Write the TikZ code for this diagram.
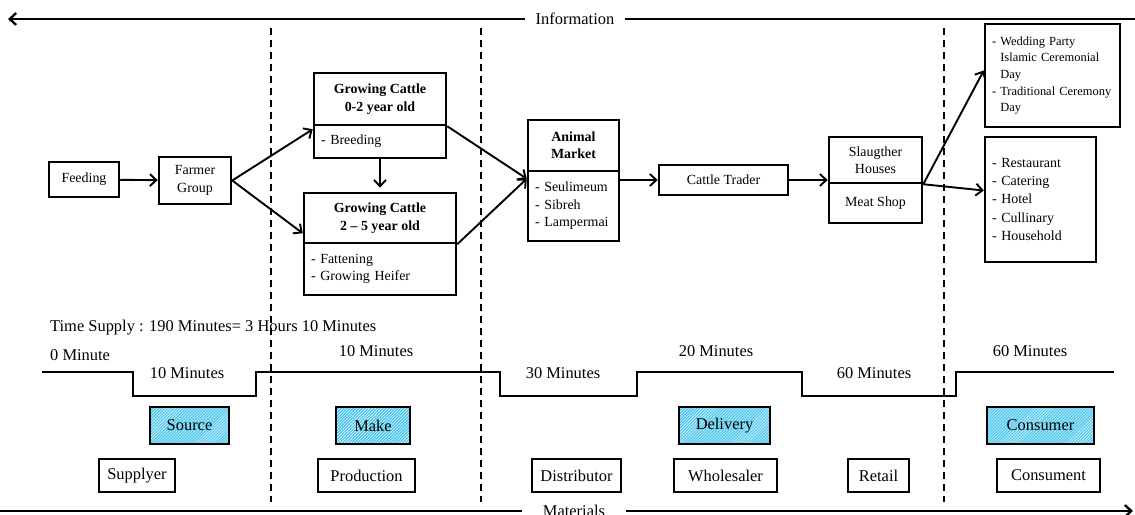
\documentclass[tikz,border=0pt]{standalone}
\usepackage{fontspec}
\setmainfont{Liberation Serif}
\usetikzlibrary{arrows.meta,patterns}
\definecolor{hatchblue}{RGB}{80,200,238}

\begin{document}
\begin{tikzpicture}[
	box/.style={draw,rectangle,line width=2.5bp,inner sep=0pt,align=center,font=\fontsize{14}{17.5}\selectfont},
	head/.style={box,font=\fontsize{14}{17.5}\selectfont\bfseries},
	lst/.style={box,align=left,inner xsep=7bp},
	tag/.style={draw,rectangle,line width=2.5bp,inner sep=0pt,minimum height=33bp,font=\fontsize{16.5}{19}\selectfont},
	phase/.style={tag,minimum height=37bp,preaction={fill=hatchblue},pattern=north east lines,pattern color=white},
	lbl/.style={inner sep=0pt,font=\fontsize{16.5}{19}\selectfont},
	flow/.style={line width=1.9bp,-{Straight Barb[length=6.5bp,width=12bp]}},
	sep/.style={line width=1.5bp,dash pattern=on 7bp off 5bp}
	]
	\useasboundingbox (0bp,0bp) rectangle (1135bp,515bp);
		%%
	\node (Info) at (575bp,496bp) [lbl,inner xsep=11bp] {Information};
	\coordinate (InfoL) at (8bp,496bp);
	\coordinate (InfoR) at (1135bp,496bp);
	\node (Mat) at (574bp,4bp) [lbl,inner xsep=21bp] {Materials};
	\coordinate (MatL) at (0bp,4bp);
	\coordinate (MatR) at (1133bp,4bp);
	\draw [flow,line width=2.3bp] (Info.west) -- (InfoL);
	\draw [line width=2.3bp] (Info.east) -- (InfoR);
	\draw [line width=2.3bp] (Mat.west) -- (MatL);
	\draw [flow,line width=2.3bp] (Mat.east) -- (MatR);
	\draw [sep] (271bp,487bp) -- (271bp,13bp);
	\draw [sep] (481bp,487bp) -- (481bp,13bp);
	\draw [sep] (944bp,487bp) -- (944bp,13bp);
		%
	\node (Feeding) at (84bp,335.5bp) [box,minimum width=70bp,minimum height=35bp] {Feeding};
	\node (Farmer) at (195bp,334.5bp) [box,minimum width=72bp,minimum height=47bp] {Farmer\\Group};
	\node (Grow02) at (380bp,416bp) [head,minimum width=132bp,minimum height=52bp] {Growing Cattle\\0-2 year old};
	\node (Grow02L) at (380bp,373.5bp) [lst,text width=118bp,minimum height=33bp] {- Breeding};
	\node (Grow25) at (380bp,297bp) [head,minimum width=152bp,minimum height=50bp] {Growing Cattle\\2 – 5 year old};
	\node (Grow25L) at (380bp,246bp) [lst,text width=138bp,minimum height=52bp] {- Fattening\\- Growing Heifer};
	\node (Market) at (573.5bp,369.5bp) [head,minimum width=91bp,minimum height=51bp] {Animal\\Market};
	\node (MarketL) at (573.5bp,309bp) [lst,text width=77bp,minimum height=70bp] {- Seulimeum\\- Sibreh\\- Lampermai};
	\node (Trader) at (723.5bp,335bp) [box,minimum width=129bp,minimum height=30bp] {Cattle Trader};
	\node (Slaughter) at (875.5bp,355bp) [box,minimum width=93bp,minimum height=46bp] {Slaugther\\Houses};
	\node (MeatShop) at (875.5bp,312bp) [box,minimum width=93bp,minimum height=40bp] {Meat Shop};
	\node (Events) at (1052.5bp,439.5bp) [lst,text width=121bp,minimum height=103bp,font=\fontsize{12.5}{16.7}\selectfont] {- Wedding Party\\\phantom{-} Islamic Ceremonial\\\phantom{-} Day\\- Traditional Ceremony\\\phantom{-} Day};
	\node (Buyers) at (1040.5bp,315.5bp) [lst,text width=97bp,minimum height=125bp,font=\fontsize{14}{18.3}\selectfont] {- Restaurant\\- Catering\\- Hotel\\- Cullinary\\- Household};
		%
	\draw [flow] (Feeding) -- (Farmer);
	\draw [flow] (Farmer.east) -- ([yshift=-3bp]Grow02.south west);
	\draw [flow] (Farmer.east) -- ([yshift=11bp]Grow25.south west);
	\draw [flow,shorten >=4bp] (Grow02L.south) -- (Grow25.north);
	\draw [flow] (Grow02.south east) -- ([yshift=-9bp]MarketL.north west);
	\draw [flow] (Grow25.south east) -- ([yshift=-9bp]MarketL.north west);
	\draw [flow] (MarketL.east |- Trader.west) -- (Trader.west);
	\draw [flow] (Trader.east) -- (Slaughter.west |- Trader.east);
	\draw [flow] (Slaughter.south east) -- ([yshift=5bp]Events.west);
	\draw [flow] (Slaughter.south east) -- ([yshift=9bp]Buyers.west);
		%
	\node (TS) at (50bp,187bp) [lbl,anchor=west] {Time Supply : 190 Minutes= 3 Hours 10 Minutes};
	\node (T0) at (50bp,160bp) [lbl,anchor=west] {0 Minute};
	\node (T1) at (187bp,142bp) [lbl] {10 Minutes};
	\node (T2) at (376bp,164bp) [lbl] {10 Minutes};
	\node (T3) at (563bp,142bp) [lbl] {30 Minutes};
	\node (T4) at (716bp,164bp) [lbl] {20 Minutes};
	\node (T5) at (874bp,142bp) [lbl] {60 Minutes};
	\node (T6) at (1030bp,164bp) [lbl] {60 Minutes};
	\draw [line width=1.4bp] (42bp,143bp) -- (133bp,143bp) -- (133bp,119bp) -- (256bp,119bp) -- (256bp,143bp) -- (500bp,143bp) -- (500bp,119bp) -- (637bp,119bp) -- (637bp,143bp) -- (802bp,143bp) -- (802bp,119bp) -- (956bp,119bp) -- (956bp,143bp) -- (1114bp,143bp);
		%
	\node (Source) at (189.5bp,89.5bp) [phase,minimum width=79bp] {Source};
	\node (Make) at (373bp,89.5bp) [phase,minimum width=74bp] {Make};
	\node (Delivery) at (724.5bp,89.5bp) [phase,minimum width=91bp] {Delivery};
	\node (Consumer) at (1040.5bp,89.5bp) [phase,minimum width=107bp] {Consumer};
	\node (Supplyer) at (137bp,39.5bp) [tag,minimum width=76bp] {Supplyer};
	\node (Production) at (366.5bp,39.5bp) [tag,minimum width=97bp] {Production};
	\node (Distributor) at (576.5bp,39.5bp) [tag,minimum width=89bp] {Distributor};
	\node (Wholesaler) at (725.5bp,39.5bp) [tag,minimum width=103bp] {Wholesaler};
	\node (Retail) at (878.5bp,39.5bp) [tag,minimum width=61bp] {Retail};
	\node (Consument) at (1048.5bp,39.5bp) [tag,minimum width=103bp] {Consument};
		%
\end{tikzpicture}
\end{document}
